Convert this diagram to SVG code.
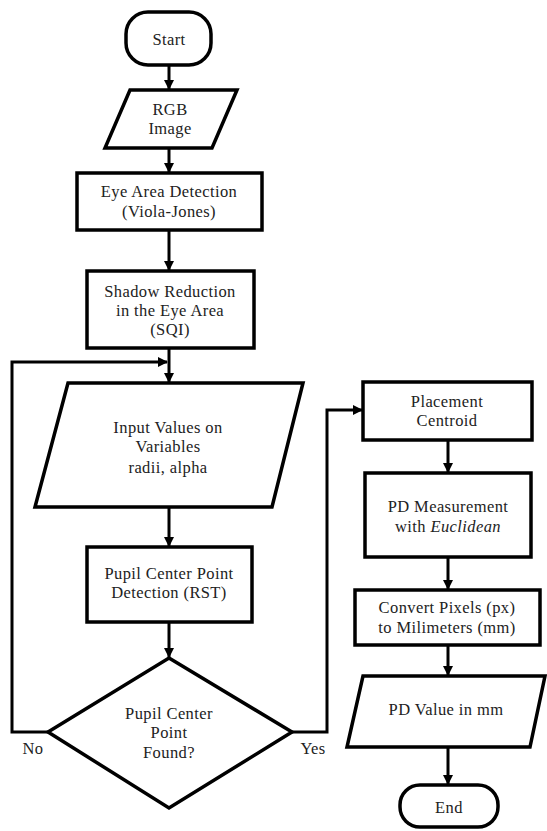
<svg xmlns="http://www.w3.org/2000/svg" width="547" height="831" viewBox="0 0 547 831">
<defs>
<style>
.s{fill:#fff;stroke:#000;stroke-width:3.5;stroke-linejoin:miter}
.c{fill:none;stroke:#000;stroke-width:3}
.t{font-size:16.5px;fill:#222;text-anchor:middle;letter-spacing:0.4px}
</style>
<marker id="a" markerWidth="10" markerHeight="10" refX="9" refY="5" orient="auto" markerUnits="userSpaceOnUse">
<path d="M0,0 L10,5 L0,10 Z" fill="#000"/>
</marker>
</defs>
<rect width="547" height="831" fill="#fff"/>
<g id="connectors">
<line class="c" x1="169" y1="65" x2="169" y2="89" marker-end="url(#a)"/>
<line class="c" x1="169" y1="148" x2="169" y2="172" marker-end="url(#a)"/>
<line class="c" x1="169" y1="230" x2="169" y2="270" marker-end="url(#a)"/>
<line class="c" x1="169" y1="348" x2="169" y2="382" marker-end="url(#a)"/>
<line class="c" x1="169" y1="507" x2="169" y2="546" marker-end="url(#a)"/>
<line class="c" x1="169" y1="622" x2="169" y2="657" marker-end="url(#a)"/>
<polyline class="c" points="48,732 12,732 12,362 167,362" marker-end="url(#a)"/>
<polyline class="c" points="292,732 327,732 327,410 362,410" marker-end="url(#a)"/>
<line class="c" x1="448" y1="440" x2="448" y2="472" marker-end="url(#a)"/>
<line class="c" x1="448" y1="557" x2="448" y2="589" marker-end="url(#a)"/>
<line class="c" x1="448" y1="645" x2="448" y2="675" marker-end="url(#a)"/>
<line class="c" x1="448" y1="747" x2="448" y2="784" marker-end="url(#a)"/>
<text class="t" style="font-family:'Liberation Serif',serif" x="33" y="754">No</text>
<text class="t" style="font-family:'Liberation Serif',serif" x="313" y="754">Yes</text>
</g>
<g id="start">
<rect class="s" x="126" y="12" width="85" height="53" rx="22"/>
<text class="t" style="font-family:'Liberation Serif',serif" x="169" y="45">Start</text>
</g>
<g id="rgb">
<polygon class="s" points="130,90 237,90 212,148 105,148"/>
<text class="t" style="font-family:'Liberation Serif',serif" x="170" y="115">RGB</text>
<text class="t" style="font-family:'Liberation Serif',serif" x="170" y="134">Image</text>
</g>
<g id="eye">
<rect class="s" x="77" y="173" width="185" height="57"/>
<text class="t" style="font-family:'Liberation Serif',serif" x="169" y="197">Eye Area Detection</text>
<text class="t" style="font-family:'Liberation Serif',serif" x="169" y="217">(Viola-Jones)</text>
</g>
<g id="shadow">
<rect class="s" x="87" y="271" width="167" height="77"/>
<text class="t" style="font-family:'Liberation Serif',serif" x="170" y="297">Shadow Reduction</text>
<text class="t" style="font-family:'Liberation Serif',serif" x="170" y="316">in the Eye Area</text>
<text class="t" style="font-family:'Liberation Serif',serif" x="170" y="335">(SQI)</text>
</g>
<g id="input">
<polygon class="s" points="68,383 303,383 272,507 35,507"/>
<text class="t" style="font-family:'Liberation Serif',serif" x="168" y="433">Input Values on</text>
<text class="t" style="font-family:'Liberation Serif',serif" x="168" y="452">Variables</text>
<text class="t" style="font-family:'Liberation Serif',serif" x="168" y="473">radii, alpha</text>
</g>
<g id="pupil">
<rect class="s" x="87" y="547" width="165" height="75"/>
<text class="t" style="font-family:'Liberation Serif',serif" x="169" y="579">Pupil Center Point</text>
<text class="t" style="font-family:'Liberation Serif',serif" x="169" y="598">Detection  (RST)</text>
</g>
<g id="decision">
<polygon class="s" points="169,658 292,732 169,808 48,732"/>
<text class="t" style="font-family:'Liberation Serif',serif" x="169" y="719">Pupil Center</text>
<text class="t" style="font-family:'Liberation Serif',serif" x="169" y="738">Point</text>
<text class="t" style="font-family:'Liberation Serif',serif" x="169" y="758">Found?</text>
</g>
<g id="placement">
<rect class="s" x="363" y="382" width="169" height="58"/>
<text class="t" style="font-family:'Liberation Serif',serif" x="447" y="407">Placement</text>
<text class="t" style="font-family:'Liberation Serif',serif" x="447" y="426">Centroid</text>
</g>
<g id="pd">
<rect class="s" x="365" y="473" width="166" height="84"/>
<text class="t" style="font-family:'Liberation Serif',serif" x="448" y="512">PD Measurement</text>
<text class="t" style="font-family:'Liberation Serif',serif" x="448" y="532">with <tspan font-style="italic">Euclidean</tspan></text>
</g>
<g id="convert">
<rect class="s" x="355" y="590" width="185" height="55"/>
<text class="t" style="font-family:'Liberation Serif',serif" x="447" y="613">Convert Pixels (px)</text>
<text class="t" style="font-family:'Liberation Serif',serif" x="447" y="633">to Milimeters  (mm)</text>
</g>
<g id="pdvalue">
<polygon class="s" points="363,676 545,676 530,747 347,747"/>
<text class="t" style="font-family:'Liberation Serif',serif" x="446" y="715">PD Value in mm</text>
</g>
<g id="end">
<rect class="s" x="400" y="785" width="98" height="42" rx="20"/>
<text class="t" style="font-family:'Liberation Serif',serif" x="449" y="813">End</text>
</g>
</svg>
